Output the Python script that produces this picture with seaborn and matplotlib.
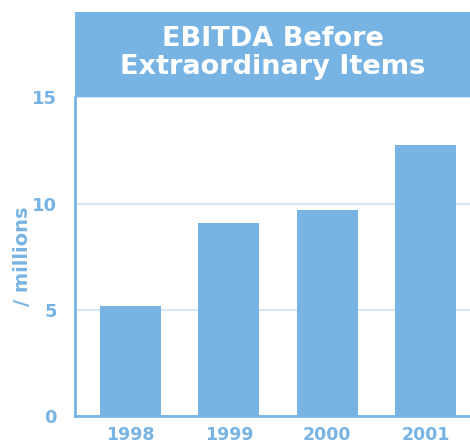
import matplotlib
matplotlib.use("Agg")
import matplotlib.pyplot as plt
from matplotlib.patches import Rectangle
import seaborn as sns
import pandas as pd

years = ["1998", "1999", "2000", "2001"]
ebitda = [5.2, 9.07, 9.68, 12.75]
yticks = [0, 5, 10, 15]
title_text = "EBITDA Before\nExtraordinary Items"
ylabel_text = "/ millions"

BLUE = "#78b4e3"
GRID = "#d6e7f5"

sns.set_style("white")
plt.rcParams["font.family"] = ["DejaVu Sans"]

df = pd.DataFrame({"year": years, "ebitda": ebitda})

fig = plt.figure(figsize=(4.7, 4.45), dpi=100)
ax = fig.add_axes([75 / 470, 29 / 445, 1 - 75 / 470, (416 - 97.3) / 445])

sns.barplot(data=df, x="year", y="ebitda", color=BLUE, saturation=1,
            width=0.62, ax=ax, linewidth=0, zorder=3)

ax.set_ylim(0, 15)
ax.set_xlim(-0.565, 3.45)
ax.set_yticks(yticks)
ax.set_yticklabels([str(t) for t in yticks])
ax.yaxis.grid(True, color=GRID, linewidth=1.6, zorder=0)
ax.set_axisbelow(True)

for s in ["top", "right"]:
    ax.spines[s].set_visible(False)
for s in ["left", "bottom"]:
    ax.spines[s].set_color(BLUE)
    ax.spines[s].set_linewidth(2)

ax.tick_params(axis="both", length=0, colors=BLUE, labelsize=13)
ax.tick_params(axis="y", pad=13)
ax.tick_params(axis="x", pad=7, labelsize=12.5)
for lbl in ax.get_xticklabels() + ax.get_yticklabels():
    lbl.set_fontweight("bold")
    lbl.set_color(BLUE)

ax.set_xlabel("")
ax.set_ylabel(ylabel_text, color=BLUE, fontsize=14, fontweight="bold")
ax.yaxis.set_label_coords(-0.108, 0.5)

# title box
box_h = (97.3 - 12) / (416 - 97.3)
ax.add_patch(Rectangle((0, 1), 1, box_h, transform=ax.transAxes,
                       facecolor=BLUE, edgecolor="none", clip_on=False, zorder=5))
ax.text(0.5, 1 + box_h / 2 + 0.005, title_text, transform=ax.transAxes,
        ha="center", va="center", color="white", fontsize=19.5,
        fontweight="bold", linespacing=1.1, zorder=6)

fig.savefig("out.png", dpi=100)
